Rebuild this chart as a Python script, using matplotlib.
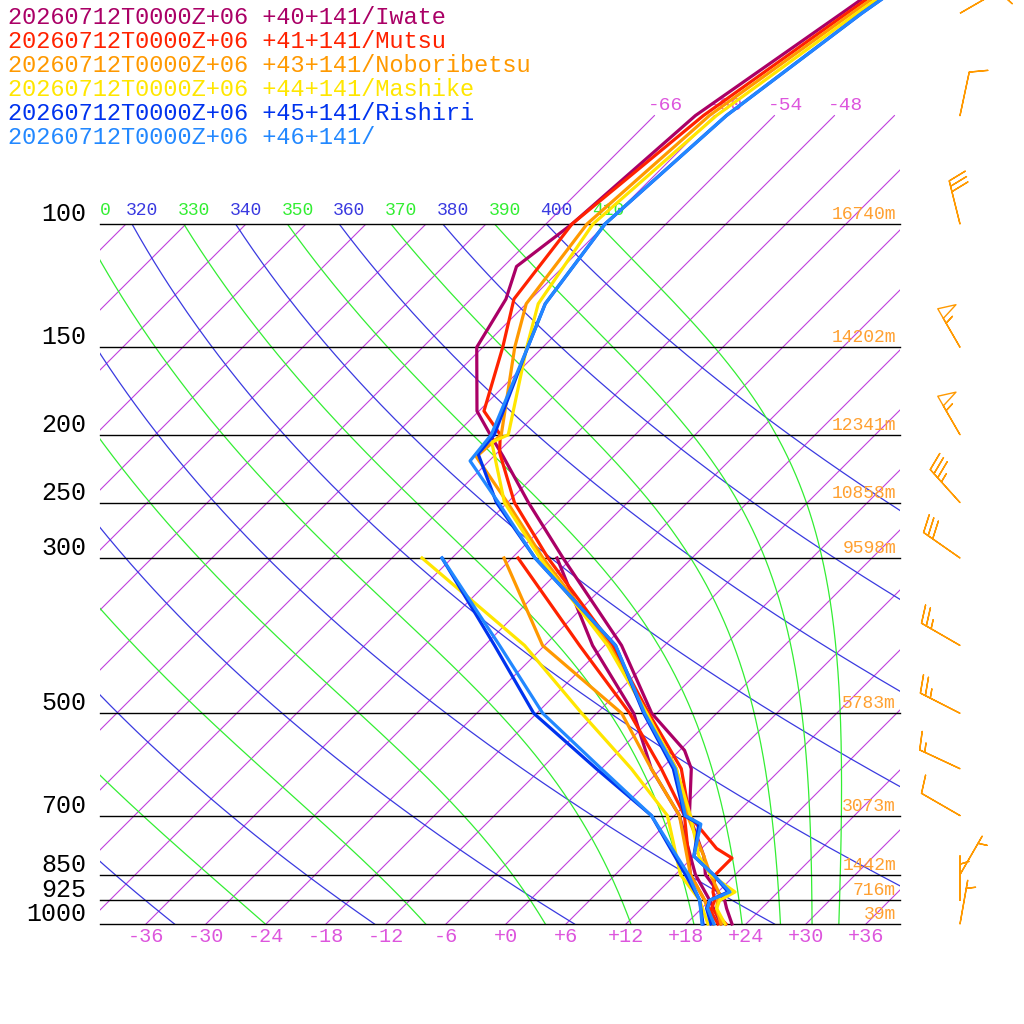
import numpy as np
import matplotlib
matplotlib.use("Agg")
import matplotlib.pyplot as plt
from matplotlib.patches import Rectangle

# ---- data ----
stations = ["20260712T0000Z+06 +40+141/Iwate",
            "20260712T0000Z+06 +41+141/Mutsu",
            "20260712T0000Z+06 +43+141/Noboribetsu",
            "20260712T0000Z+06 +44+141/Mashike",
            "20260712T0000Z+06 +45+141/Rishiri",
            "20260712T0000Z+06 +46+141/"]
colors = ["#aa0066", "#ff2200", "#ff9900", "#ffe600", "#0033ee", "#2288ff"]

t_pres = [
    [1000, 950, 925, 900, 850, 800, 700, 600, 565, 500, 400, 300, 250, 215, 200, 185, 150, 128, 115, 100, 70, 50, 30],
    [1000, 950, 925, 900, 850, 805, 780, 700, 600, 500, 400, 300, 250, 212, 200, 185, 150, 128, 100, 70, 50, 30],
    [1000, 950, 925, 905, 850, 800, 700, 600, 500, 400, 300, 250, 215, 200, 150, 130, 100, 70, 50, 30],
    [1000, 950, 925, 900, 850, 800, 700, 600, 500, 400, 300, 250, 205, 200, 150, 130, 100, 70, 50, 30],
    [1000, 950, 925, 900, 850, 800, 720, 700, 600, 500, 400, 300, 250, 213, 200, 150, 130, 100, 70, 50, 30],
    [1000, 950, 925, 900, 850, 800, 720, 700, 600, 500, 400, 300, 250, 218, 200, 150, 130, 100, 70, 50, 30],
]
t_vals = [
    [22.6, 20.5, 19.5, 18.0, 15.0, 13.0, 7.5, 3.0, 0.5, -6.5, -16.3, -30.9, -39.9, -47.0, -50.5, -54.2, -60.6, -62.5, -64.7, -63.4, -61.9, -57.5, -51.0],
    [22.0, 19.0, 18.5, 17.5, 16.0, 16.0, 13.5, 7.5, 2.0, -6.8, -17.2, -32.4, -41.3, -47.8, -49.5, -53.5, -58.0, -61.7, -63.4, -61.1, -57.0, -50.5],
    [21.5, 19.5, 18.8, 18.3, 15.5, 13.0, 7.3, 1.5, -7.0, -17.5, -32.9, -42.0, -49.7, -49.4, -56.8, -60.0, -61.9, -60.5, -56.5, -50.0],
    [21.9, 19.5, 19.0, 19.7, 15.5, 12.5, 7.6, 1.5, -7.0, -17.7, -33.2, -42.3, -49.6, -48.7, -55.6, -58.8, -61.3, -59.8, -56.0, -49.5],
    [20.5, 18.5, 18.0, 19.0, 15.8, 12.0, 9.3, 7.0, 1.2, -7.3, -16.9, -33.7, -43.1, -49.8, -50.1, -55.5, -58.1, -60.1, -58.8, -55.5, -49.0],
    [20.8, 18.6, 18.0, 19.2, 15.8, 12.0, 9.5, 7.1, 1.4, -7.2, -16.9, -33.7, -42.9, -49.9, -50.4, -55.5, -58.1, -60.1, -58.8, -55.5, -49.0],
]
td_pres = [1000, 925, 850, 700, 600, 500, 400, 300]
td_vals = [
    [21.5, 18.0, 14.0, 6.5, -1.0, -8.3, -19.2, -31.5],
    [21.2, 17.5, 13.5, 7.0, 0.0, -8.7, -20.5, -35.4],
    [20.7, 17.5, 13.5, 6.5, -1.0, -9.5, -24.2, -36.8],
    [20.2, 17.0, 12.5, 5.3, -3.0, -13.5, -26.0, -45.0],
    [19.7, 17.0, 13.0, 3.7, -6.5, -18.3, -29.0, -43.0],
    [19.6, 17.0, 13.3, 3.7, -6.0, -17.4, -28.5, -43.0],
]

levels = [100, 150, 200, 250, 300, 500, 700, 850, 925, 1000]
heights = ["16740m", "14202m", "12341m", "10858m", "9598m", "5783m", "3073m", "1442m", "716m", "39m"]
dry_thetas = [240, 260, 280, 300, 320, 340, 360, 380, 400]
moist_thetas = [250, 270, 290, 310, 330, 350, 370, 390, 410]
temp_ticks = list(range(-36, 37, 6))
iso_labels = [-66, -60, -54, -48]

wind_pres = [50, 70, 100, 150, 200, 250, 300, 400, 500, 600, 700, 850, 925, 1000]
wind_dir = [60, 12, 346, 330, 330, 318, 305, 300, 297, 295, 300, 30, 0, 10]
wind_spd = [10, 10, 30, 55, 55, 35, 30, 25, 25, 15, 10, 5, 5, 5]


# skew-T pixel mapping
def py(p):
    return 924 - 700 * np.log10(1000.0 / np.asarray(p, float))


def px(p, t):
    return 506 + 10 * np.asarray(t, float) + (924 - py(p))


fig = plt.figure(figsize=(10.24, 10.24), dpi=100)
ax = fig.add_axes([0, 0, 1, 1])
ax.set_xlim(0, 1024)
ax.set_ylim(1024, 0)
ax.axis("off")
mono = "Liberation Mono"
box = Rectangle((100, 224), 800, 700, transform=ax.transData, fill=False, lw=0)
ax.add_patch(box)
box_hi = Rectangle((100, 110), 800, 814, transform=ax.transData, fill=False, lw=0)
ax.add_patch(box_hi)

# isotherms
for t in range(-150, 60, 6):
    ptop = 70 if t >= -66 else 100
    pp = np.array([1000, ptop])
    ln, = ax.plot(px(pp, t), py(pp), color="#c040dd", lw=0.8, zorder=1)
    ln.set_clip_path(box_hi if t >= -66 else box)
for t in iso_labels:
    ax.text(px(70, t) - 7, py(70) - 2, "%d" % t, color="#dd55dd", fontsize=14, family=mono, va="bottom")

# dry and moist adiabats
Rd, Cp, Lv, eps = 287.0, 1005.0, 2.5e6, 0.622


def dtdp(p, T):
    tc = T - 273.15
    es = 6.112 * np.exp(17.67 * tc / (tc + 243.5))
    rs = eps * es / (p - es)
    return (Rd * T + Lv * rs) / p / (Cp + Lv * Lv * rs * eps / (Rd * T * T))


ps = np.linspace(100, 1000, 400)
lines = []
for th in dry_thetas:
    lines.append((th, th * (ps / 1000.0) ** 0.2857 - 273.15, "#3a3ae0"))
for th in moist_thetas:
    T = th * 0.1 ** 0.2857
    Ts = [T]
    for i in range(1, len(ps)):
        T = T + dtdp(ps[i - 1], T) * (ps[i] - ps[i - 1])
        Ts.append(T)
    lines.append((th, np.array(Ts) - 273.15, "#33ee33"))
for th, Ts, col in lines:
    ln, = ax.plot(px(ps, Ts), py(ps), color=col, lw=0.9, zorder=2)
    ln.set_clip_path(box)
    x0 = px(100, Ts[0]) - 6
    if x0 >= 95:
        ax.text(x0, 219, str(th), color=col, fontsize=13, family=mono, va="bottom")
    elif x0 > 60:
        # label cut by the left edge of the diagram
        ax.text(100, 219, str(th)[-1], color=col, fontsize=13, family=mono, va="bottom")

# pressure lines
for p, h in zip(levels, heights):
    ax.plot([100, 900], [py(p), py(p)], color="black", lw=1.0, zorder=3)
    ax.text(86, py(p) + 2, str(p), fontsize=18, family=mono, ha="right", va="bottom")
    ax.text(896, py(p) - 1, h, fontsize=13, family=mono, color="#ffa030", ha="right", va="bottom")
for t in temp_ticks:
    ax.text(px(1000, t), 937, ("%+d" % t) if t else "+0", fontsize=14.5, family=mono, color="#dd55dd",
            ha="center", va="center")

# profiles
for i in range(len(stations)):
    ax.plot(px(td_pres, td_vals[i]), py(td_pres), color=colors[i], lw=2.3, zorder=5)
    ax.plot(px(t_pres[i], t_vals[i]), py(t_pres[i]), color=colors[i], lw=2.3, zorder=5)
    ax.text(8, 17 + 24 * i, stations[i], color=colors[i], fontsize=17, family=mono, va="center")

# wind barbs
d = np.radians(wind_dir)
s = np.array(wind_spd, float)
ax.barbs(np.full(len(s), 960.0), py(wind_pres), -s * np.sin(d), -s * np.cos(d),
         edgecolor="#ff9900", facecolor="none", length=8, linewidth=1.0, zorder=6, clip_on=False)

fig.savefig("out.png", dpi=100, facecolor="white")
